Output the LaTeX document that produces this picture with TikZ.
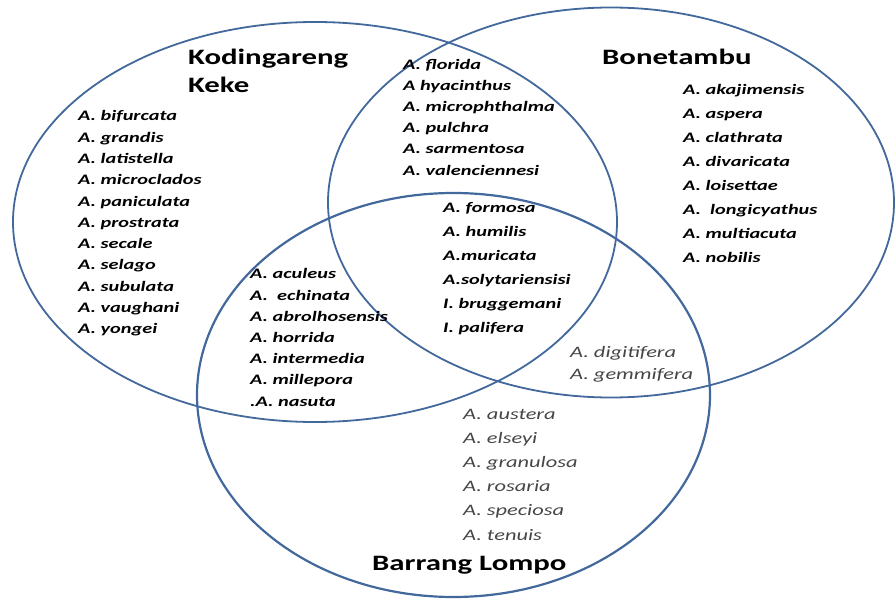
\documentclass[tikz,border=0pt]{standalone}
\usepackage{fontspec}
\setmainfont{Carlito}[FakeStretch=1.4]
\usetikzlibrary{shapes.geometric}
\definecolor{ringblue}{RGB}{66,104,156}
\definecolor{softgray}{RGB}{70,70,70}

\begin{document}
\begin{tikzpicture}[x=1pt, y=-1pt,
  ring/.style={draw=ringblue, line width=1.8pt, ellipse, inner sep=0pt},
  site/.style={font=\bfseries\fontsize{22}{28}\selectfont, align=left,
               anchor=west, inner sep=0pt},
  sp/.style={font=\bfseries\itshape\fontsize{14.5}{#1}\selectfont,
             align=left, anchor=west, inner sep=0pt},
  spl/.style={font=\itshape\fontsize{16}{#1}\selectfont, text=softgray,
              align=left, anchor=west, inner sep=0pt}]
\useasboundingbox (0,0) rectangle (895,599);

%% ---- THE THREE SITES ----
\node[ring, minimum width=604pt, minimum height=400pt] (KK) at (315,222) {};
\node[ring, minimum width=566pt, minimum height=390pt] (BT) at (611,202.5) {};
\node[ring, line width=2.2pt, minimum width=513pt, minimum height=404pt] (BL) at (453.5,395) {};

%% ---- Site names ----
\node[site] (KKname) at (188,71)  {Kodingareng\\Keke};
\node[site] (BTname) at (602,57)  {Bonetambu};
\node[site] (BLname) at (372,565) {Barrang Lompo};

%% ---- Species lists ----
\node[sp=21.3pt] (KKonly) at (78,223.5) {A. bifurcata\\A. grandis\\A. latistella\\A. microclados\\
  A. paniculata\\A. prostrata\\A. secale\\A. selago\\A. subulata\\A. vaughani\\A. yongei};
\node[sp=21.2pt] (KKBT) at (403,117) {A. florida\\A hyacinthus\\A. microphthalma\\A. pulchra\\
  A. sarmentosa\\A. valenciennesi};
\node[sp=24.1pt] (BTonly) at (683,173.5) {A. akajimensis\\A. aspera\\A. clathrata\\A. divaricata\\
  A. loisettae\\A.\ \ longicyathus\\A. multiacuta\\A. nobilis};
\node[sp=24pt] (ALL) at (443,269) {A. formosa\\A. humilis\\A.muricata\\A.solytariensisi\\
  I. bruggemani\\I. palifera};
\node[sp=21.2pt] (KKBL) at (250,337.5) {A. aculeus\\A.\ \ echinata\\A. abrolhosensis\\A. horrida\\
  A. intermedia\\A. millepora\\.A. nasuta};
\node[spl=22pt] (BTBL) at (570,364) {A. digitifera\\A. gemmifera};
\node[spl=24.2pt] (BLonly) at (463,474.5) {A. austera\\A. elseyi\\A. granulosa\\A. rosaria\\
  A. speciosa\\A. tenuis};
\end{tikzpicture}
\end{document}
